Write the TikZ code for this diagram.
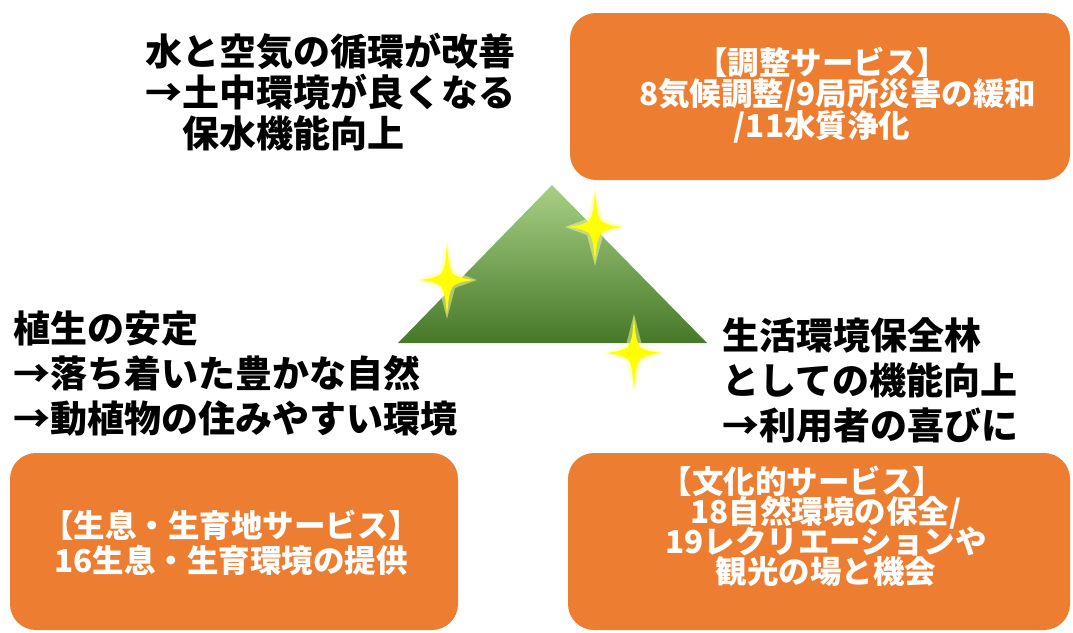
\documentclass[tikz,border=0pt]{standalone}
\usepackage{fontspec}
\setmainfont{Noto Sans CJK JP}
\definecolor{boxorange}{RGB}{237,125,49}
\definecolor{leafhi}{RGB}{168,208,132}
\definecolor{leaflo}{RGB}{70,120,40}
\definecolor{spark}{RGB}{255,255,0}
% a full-width arrow for the notes
\newcommand\notearrow{\makebox[1em][l]{→}}
\begin{document}
\begin{tikzpicture}[x=1pt,y=-1pt,
  svcbox/.style={fill=boxorange, rounded corners=26pt, inner sep=0pt},
  svctext/.style={text=white, align=center, inner sep=0pt},
  note/.style={text=black, align=left, inner sep=0pt, anchor=west},
  sparkle/.pic={
    \fill[spark!40, opacity=0.5] (0,-39) -- (8,-8) -- (30,0) -- (8,8) -- (0,39) -- (-8,8) -- (-30,0) -- (-8,-8) -- cycle;
    \fill[spark] (0,-36) .. controls (2,-14) .. (6,-6) .. controls (14,-2) .. (27,0)
      .. controls (14,2) .. (6,6) .. controls (2,14) .. (0,36)
      .. controls (-2,14) .. (-6,6) .. controls (-14,2) .. (-27,0)
      .. controls (-14,-2) .. (-6,-6) .. controls (-2,-14) .. (0,-36) -- cycle;
  },
]
\useasboundingbox[fill=white] (0,0) rectangle (1073,632);

% service boxes
\node[svcbox, minimum width=500pt, minimum height=167pt] (reg) at (820,96.5) {};
\node[svcbox, minimum width=448pt, minimum height=177pt] (hab) at (234,541.5) {};
\node[svcbox, minimum width=502pt, minimum height=177pt] (cul) at (819,541.5) {};

\node[svctext, font={\fontsize{31.5}{31.5}\selectfont\bfseries\lineskiplimit=-50pt}] (regtext) at (822,95)
  {【調整サービス】\\\hspace*{1em}8気候調整/9局所災害の緩和\\/11水質浄化};
\node[svctext, font={\fontsize{31.5}{35}\selectfont\bfseries\lineskiplimit=-50pt}] (habtext) at (231,543)
  {【生息・生育地サービス】\\16生息・生育環境の提供};
\node[svctext, font={\fontsize{31.5}{30}\selectfont\bfseries\lineskiplimit=-50pt}] (cultext) at (826,526)
  {【文化的サービス】\hspace*{1.5em}\\18自然環境の保全/\\19レクリエーションや\\観光の場と機会};

% forest mountain
\shade[top color=leafhi, bottom color=leaflo] (552,185) -- (398,343) -- (707,343) -- cycle;

% sparkles
\pic at (447,280) {sparkle};
\pic at (595,227) {sparkle};
\pic at (634,353) {sparkle};

% notes
\node[note, font={\fontsize{37}{41}\selectfont\bfseries}] (topnote) at (145,92)
  {水と空気の循環が改善\\\notearrow 土中環境が良くなる\\　保水機能向上};
\node[note, font={\fontsize{37}{45}\selectfont\bfseries}] (leftnote) at (13,374)
  {植生の安定\\\notearrow 落ち着いた豊かな自然\\\notearrow 動植物の住みやすい環境};
\node[note, font={\fontsize{37}{45}\selectfont\bfseries}] (rightnote) at (722,380)
  {生活環境保全林\\としての機能向上\\\notearrow 利用者の喜びに};
\end{tikzpicture}
\end{document}
